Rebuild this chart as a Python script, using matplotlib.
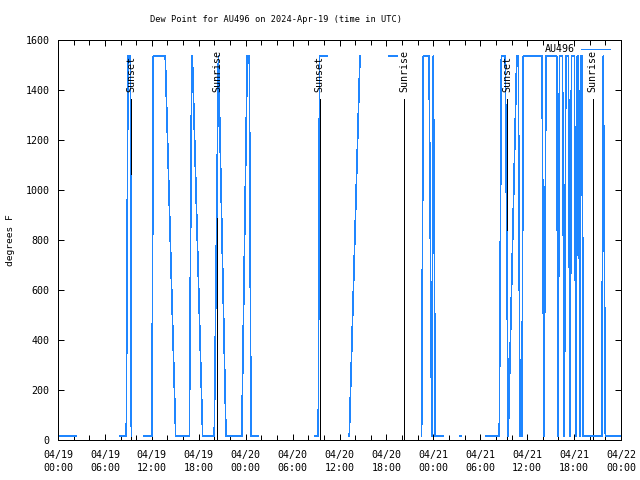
import numpy as np
import pandas as pd
import matplotlib
matplotlib.use("Agg")
import matplotlib.pyplot as plt
import matplotlib.dates as mdates
from matplotlib.lines import Line2D

# === Data (UTC, dew point in degrees F) ===
# None marks a gap in the record
times = [
    "2024-04-19 00:15", "2024-04-19 02:16", None,
    "2024-04-19 07:56", "2024-04-19 08:44", "2024-04-19 08:57", "2024-04-19 09:15", "2024-04-19 09:23", None,
    "2024-04-19 11:00", "2024-04-19 12:01", "2024-04-19 12:11", "2024-04-19 13:43", "2024-04-19 15:03",
    "2024-04-19 16:48", "2024-04-19 17:06", "2024-04-19 17:11", "2024-04-19 18:30", "2024-04-19 19:59",
    "2024-04-19 20:31", "2024-04-19 21:29", "2024-04-19 23:30", "2024-04-20 00:12", "2024-04-20 00:28",
    "2024-04-20 00:41", "2024-04-20 01:32", None,
    "2024-04-20 08:47", "2024-04-20 09:17", "2024-04-20 09:27", "2024-04-20 10:26", None,
    "2024-04-20 13:15", "2024-04-20 14:37", None,
    "2024-04-20 18:15", "2024-04-20 19:19", None,
    "2024-04-20 22:30", "2024-04-20 22:43", "2024-04-20 23:27", "2024-04-20 23:48", "2024-04-21 00:00",
    "2024-04-21 00:15", "2024-04-21 01:17", None,
    "2024-04-21 03:27", "2024-04-21 03:32", None,
    "2024-04-21 06:44", "2024-04-21 08:26", "2024-04-21 08:42", "2024-04-21 09:12", "2024-04-21 09:35",
    "2024-04-21 10:40", "2024-04-21 10:52", "2024-04-21 11:05", "2024-04-21 11:20", "2024-04-21 11:30",
    "2024-04-21 13:54", "2024-04-21 14:09", "2024-04-21 14:25", "2024-04-21 15:47", "2024-04-21 15:57",
    "2024-04-21 16:08", "2024-04-21 16:31", "2024-04-21 16:45", "2024-04-21 16:57", "2024-04-21 17:17",
    "2024-04-21 17:29", "2024-04-21 17:40", "2024-04-21 18:02", "2024-04-21 18:15", "2024-04-21 18:25",
    "2024-04-21 18:34", "2024-04-21 18:46", "2024-04-21 18:53", "2024-04-21 19:01", "2024-04-21 19:11",
    "2024-04-21 21:32", "2024-04-21 21:44", "2024-04-21 22:00", "2024-04-22 00:00",
]
dew = [
    16, 16, None,
    16, 16, 1535, 1535, 16, None,
    16, 16, 1535, 1535, 16,
    16, 1535, 1535, 16, 16,
    1535, 16, 16, 1535, 1535,
    16, 16, None,
    16, 16, 1535, 1535, None,
    16, 1535, None,
    1535, 1535, None,
    16, 1535, 1535, 16, 1535,
    16, 16, None,
    16, 16, None,
    16, 16, 1535, 1535, 16,
    1535, 1535, 16, 16, 1535,
    1535, 16, 1535, 1535, 16,
    1535, 1535, 16, 1535, 1535,
    16, 1535, 1535, 16, 1535,
    1535, 16, 1535, 1535, 16,
    16, 1535, 16, 16,
]

event_times = ["2024-04-19 09:23", "2024-04-19 20:22", "2024-04-20 09:28",
               "2024-04-20 20:17", "2024-04-21 09:28", "2024-04-21 20:23"]
event_labels = ["Sunset", "Sunrise", "Sunset", "Sunrise", "Sunset", "Sunrise"]

station = "AU496"
title = "Dew Point for AU496 on 2024-Apr-19 (time in UTC)"

# === Build series ===
# gap rows get a timestamp halfway between their neighbours so the line breaks
t = []
for i, s in enumerate(times):
    if s is None:
        a = pd.Timestamp(times[i - 1])
        b = pd.Timestamp(times[i + 1])
        t.append(a + (b - a) / 2)
    else:
        t.append(pd.Timestamp(s))
y = np.array([np.nan if v is None else v for v in dew], dtype=float)
ev = [pd.Timestamp(s) for s in event_times]

# === Plot ===
plt.rcParams['font.family'] = ['DejaVu Sans Mono']
blue = '#1f86ff'
px = 0.72  # one pixel at 100 dpi

fig = plt.figure(figsize=(6.4, 4.8), dpi=100)
ax = fig.add_axes([58 / 640, 40 / 480, 563 / 640, 400 / 480])

for x0, lab in zip(ev, event_labels):
    ax.plot([x0, x0], [0, 1364], color='black', lw=px, antialiased=False)
    ax.text(x0, 1392, lab, rotation=90, ha='center', va='bottom', fontsize=7.2)

ax.plot(t, y, color=blue, lw=0.5, antialiased=False)

ax.set_xlim(pd.Timestamp("2024-04-19 00:00"), pd.Timestamp("2024-04-22 00:00"))
ax.set_ylim(0, 1600)
ax.set_yticks(np.arange(0, 1601, 200))
ax.xaxis.set_major_locator(mdates.HourLocator(byhour=[0, 6, 12, 18]))
ax.xaxis.set_minor_locator(mdates.HourLocator(byhour=range(0, 24, 2)))
ax.xaxis.set_major_formatter(mdates.DateFormatter('%m/%d\n%H:%M'))
ax.tick_params(which='both', direction='in', top=True, right=True, width=px, labelsize=7.2)
ax.tick_params(which='major', length=4.5)
ax.tick_params(which='minor', length=3.5)
ax.tick_params(axis='x', pad=7)
ax.tick_params(axis='y', pad=6)
for lab in ax.get_xticklabels():
    lab.set_linespacing(1.45)
for sp in ax.spines.values():
    sp.set_linewidth(px)

ax.set_ylabel("degrees F", fontsize=6.8)
ax.yaxis.set_label_coords(-43 / 563, 0.5)

fig.text(275.5 / 640, 1 - 19 / 480, title, ha='center', va='center', fontsize=6.2)

# legend entry drawn in the top right corner
fig.text(575 / 640, 1 - 49 / 480, station, ha='right', va='center', fontsize=7.2)
fig.add_artist(Line2D([581 / 640, 610 / 640], [1 - 48.5 / 480] * 2, color=blue, lw=px,
                      transform=fig.transFigure, antialiased=False))

fig.savefig("out.png", dpi=100)
